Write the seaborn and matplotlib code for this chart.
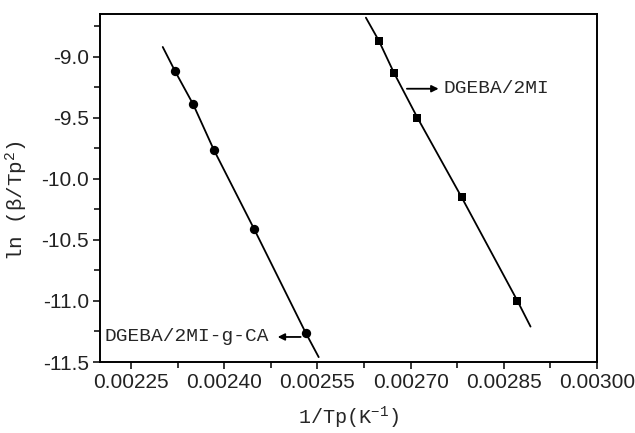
import matplotlib
matplotlib.use("Agg")
import matplotlib.pyplot as plt
import seaborn as sns
import pandas as pd
from matplotlib.ticker import MultipleLocator, FormatStrFormatter

# Data
x_2mi = [0.002649, 0.002673, 0.002711, 0.002782, 0.002872]
y_2mi = [-8.87, -9.13, -9.50, -10.15, -11.00]
line_x_2mi = [0.002628, 0.002649, 0.002673, 0.002711, 0.002782, 0.002872, 0.002893]
line_y_2mi = [-8.68, -8.87, -9.13, -9.50, -10.15, -11.00, -11.21]

x_ca = [0.002321, 0.002350, 0.002383, 0.002448, 0.002531]
y_ca = [-9.12, -9.39, -9.76, -10.41, -11.26]
line_x_ca = [0.002301, 0.002321, 0.002350, 0.002383, 0.002448, 0.002531, 0.002552]
line_y_ca = [-8.92, -9.12, -9.39, -9.76, -10.41, -11.26, -11.46]

label_2mi = "DGEBA/2MI"
label_ca = "DGEBA/2MI-g-CA"

sns.set_theme(style="white")
plt.rcParams['font.family'] = ['Liberation Sans', 'DejaVu Sans']
plt.rcParams['mathtext.default'] = 'regular'

fig = plt.figure(figsize=(6.35, 4.33), dpi=100)
ax = fig.add_axes([100/635, 1-362/433, 497/635, 348/433])

df_l1 = pd.DataFrame({"x": line_x_2mi, "y": line_y_2mi})
df_l2 = pd.DataFrame({"x": line_x_ca, "y": line_y_ca})
df_p1 = pd.DataFrame({"x": x_2mi, "y": y_2mi})
df_p2 = pd.DataFrame({"x": x_ca, "y": y_ca})

sns.lineplot(data=df_l1, x="x", y="y", ax=ax, color="black", lw=1.3, sort=False, estimator=None)
sns.lineplot(data=df_l2, x="x", y="y", ax=ax, color="black", lw=1.3, sort=False, estimator=None)
sns.scatterplot(data=df_p1, x="x", y="y", ax=ax, color="black", marker="s", s=40, edgecolor="black", linewidth=0, zorder=3)
sns.scatterplot(data=df_p2, x="x", y="y", ax=ax, color="black", marker="o", s=45, edgecolor="black", linewidth=0, zorder=3)

ax.set_xlim(0.0022, 0.0030)
ax.set_ylim(-11.5, -8.65)
ax.xaxis.set_minor_locator(MultipleLocator(0.000075))
ax.xaxis.set_major_formatter(FormatStrFormatter('%.5f'))
ax.yaxis.set_major_locator(MultipleLocator(0.5))
ax.yaxis.set_minor_locator(MultipleLocator(0.25))
ax.yaxis.set_major_formatter(FormatStrFormatter('%.1f'))
ax.set_xticks([0.00225, 0.00240, 0.00255, 0.00270, 0.00285, 0.00300])
ax.set_xlim(0.0022, 0.0030)

for s in ax.spines.values():
    s.set_color("black")
    s.set_linewidth(1.4)

ax.tick_params(axis='both', which='both', direction='out', bottom=True, left=True, top=False, right=False,
               color='black', width=1.1)
ax.tick_params(axis='both', which='major', length=5, labelsize=15, labelcolor='#222222', pad=3)
ax.tick_params(axis='both', which='minor', length=4)

mono = ['Liberation Mono', 'DejaVu Sans']
ax.set_xlabel("1/Tp(K$^{-1}$)", fontsize=14.5, family=mono, va='top')
ax.xaxis.set_label_coords(0.5, -0.122)
ax.set_ylabel("ln (β/Tp$^{2}$)", fontsize=15, family=mono)
ax.yaxis.set_label_coords(-0.14, 0.465)

# DGEBA/2MI label with arrow pointing right toward text
ax.text(0.002753, -9.262, label_2mi, fontsize=14, family=mono, va='center', ha='left')
ax.annotate("", xy=(0.002745, -9.262), xytext=(0.002694, -9.262),
            arrowprops=dict(arrowstyle='-|>', color='black', lw=1.3, mutation_scale=10, shrinkA=0, shrinkB=0))
# DGEBA/2MI-g-CA label with arrow pointing left toward text
ax.text(0.002472, -11.295, label_ca, fontsize=14, family=mono, va='center', ha='right')
ax.annotate("", xy=(0.002486, -11.295), xytext=(0.002523, -11.295),
            arrowprops=dict(arrowstyle='-|>', color='black', lw=1.3, mutation_scale=10, shrinkA=0, shrinkB=0))

fig.savefig("out.png", dpi=100)
